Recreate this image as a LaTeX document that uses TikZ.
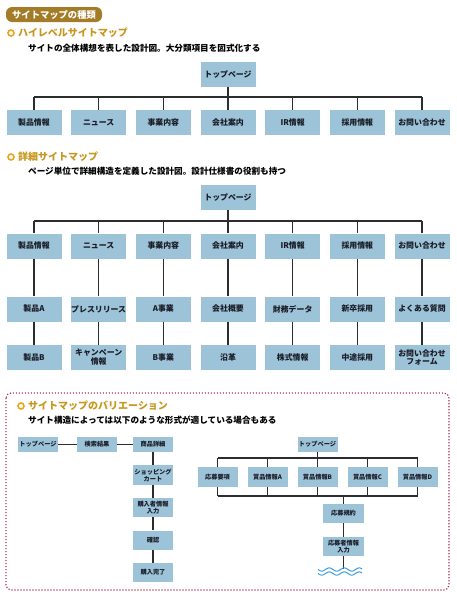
\documentclass[tikz,border=0pt]{standalone}
\usepackage{fontspec}
\setmainfont{Noto Sans CJK JP}
\definecolor{boxblue}{RGB}{157,195,216}
\definecolor{textdark}{RGB}{25,28,38}
\definecolor{linedark}{RGB}{45,45,45}
\definecolor{goldtext}{RGB}{200,150,30}
\definecolor{bulletc}{RGB}{232,165,25}
\definecolor{badgec}{RGB}{163,124,40}
\definecolor{dotred}{RGB}{176,50,80}
\definecolor{wavec}{RGB}{58,160,220}
\begin{document}
\begin{tikzpicture}[x=1pt,y=-1pt,
  box/.style={fill=boxblue, minimum width=55pt, minimum height=25pt, inner sep=0pt, align=center, text=textdark, font=\bfseries\fontsize{7.9}{8.8}\selectfont},
  sbox/.style={box, minimum width=40pt, minimum height=19pt, font=\bfseries\fontsize{6.2}{7.1}\selectfont},
  conn/.style={draw=linedark, line width=1.2pt},
  head/.style={anchor=west, text=goldtext, inner sep=0pt, font=\bfseries\fontsize{10}{11}\selectfont},
  subt/.style={anchor=west, text=black, inner sep=0pt, font=\bfseries\fontsize{8.6}{9}\selectfont},
  bulletmark/.style={circle, draw=bulletc, line width=1.6pt, minimum size=6pt, inner sep=0pt}]
\useasboundingbox (0,0) rectangle (456,600);

% badge
\node[fill=badgec, rounded corners=6pt, minimum width=96pt, minimum height=15pt, inner sep=0pt, text=white, font=\bfseries\fontsize{9.3}{10}\selectfont] (badge) at (54,14.5) {サイトマップの種類};

% section 1
\node[bulletmark] (b1) at (11,33) {};
\node[head] (h1) at (18,33) {ハイレベルサイトマップ};
\node[subt] (s1) at (28,48) {サイトの全体構想を表した設計図。大分類項目を図式化する};

\node[box] (t1) at (228,74) {トップページ};
\coordinate (bus1) at (0,97);
\foreach \i/\t in {1/製品情報,2/ニュース,3/事業内容,4/会社案内,5/IR情報,6/採用情報,7/お問い合わせ}
  \node[box] (a\i) at ({34+64.667*(\i-1)},122.5) {\t};
\draw[conn] (t1.south) -- (t1.south |- bus1);
\draw[conn] (a1.north |- bus1) -- (a7.north |- bus1);
\foreach \i in {1,...,7} \draw[conn] (a\i.north) -- (a\i.north |- bus1);

% section 2
\node[bulletmark] (b2) at (11,157) {};
\node[head] (h2) at (18,157) {詳細サイトマップ};
\node[subt] (s2) at (28,171) {ページ単位で詳細構造を定義した設計図。設計仕様書の役割も持つ};

\node[box] (t2) at (228,197.5) {トップページ};
\coordinate (bus2) at (0,221);
\foreach \i/\t in {1/製品情報,2/ニュース,3/事業内容,4/会社案内,5/IR情報,6/採用情報,7/お問い合わせ}
  \node[box] (c\i) at ({34+64.667*(\i-1)},246) {\t};
\foreach \i/\t in {1/製品A,2/プレスリリース,3/A事業,4/会社概要,5/財務データ,6/新卒採用,7/よくある質問}
  \node[box] (d\i) at ({34+64.667*(\i-1)},309) {\t};
\foreach \i/\t in {1/製品B,2/{キャンペーン\\情報},3/B事業,4/沿革,5/株式情報,6/中途採用,7/{お問い合わせ\\フォーム}}
  \node[box] (e\i) at ({34+64.667*(\i-1)},357.5) {\t};
\draw[conn] (t2.south) -- (t2.south |- bus2);
\draw[conn] (c1.north |- bus2) -- (c7.north |- bus2);
\foreach \i in {1,...,7} {
  \draw[conn] (c\i.north) -- (c\i.north |- bus2);
  \draw[conn] (c\i.south) -- (d\i.north);
  \draw[conn] (d\i.south) -- (e\i.north);
}

% section 3
\draw[draw=dotred, line width=1.2pt, dash pattern=on 1.2pt off 1.8pt, rounded corners=5pt] (6,393) rectangle (449,590);
\node[bulletmark] (b3) at (21,406) {};
\node[head] (h3) at (28,406) {サイトマップのバリエーション};
\node[subt] (s3) at (28,420) {サイト構造によっては以下のような形式が適している場合もある};

% left chain
\node[sbox, minimum height=15.5pt] (v1) at (38,444.5) {トップページ};
\node[sbox, minimum height=15.5pt] (v2) at (97,444.5) {検索結果};
\node[sbox, minimum height=15.5pt] (v3) at (153,444.5) {商品詳細};
\node[sbox, minimum height=20pt] (v4) at (153,475) {ショッピング\\カート};
\node[sbox] (v5) at (153,507.5) {購入者情報\\入力};
\node[sbox] (v6) at (153,540) {確認};
\node[sbox] (v7) at (153,572.5) {購入完了};
\draw[conn] (v1.east) -- (v2.west);
\draw[conn] (v2.east) -- (v3.west);
\draw[conn] (v3.south) -- (v4.north);
\draw[conn] (v4.south) -- (v5.north);
\draw[conn] (v5.south) -- (v6.north);
\draw[conn] (v6.south) -- (v7.north);

% right tree
\node[sbox, minimum height=15.5pt] (w0) at (317.5,444.5) {トップページ};
\coordinate (bus3) at (0,458);
\coordinate (bus4) at (0,496);
\foreach \i/\t in {1/応募要項,2/賞品情報A,3/賞品情報B,4/賞品情報C,5/賞品情報D}
  \node[sbox, minimum height=20pt] (w\i) at ({217.5+50*(\i-1)},477) {\t};
\draw[conn] (w0.south) -- (w0.south |- bus3);
\draw[conn] (w1.north |- bus3) -- (w5.north |- bus3);
\draw[conn] (w1.south |- bus4) -- (w5.south |- bus4);
\foreach \i in {1,...,5} {
  \draw[conn] (w\i.north) -- (w\i.north |- bus3);
  \draw[conn] (w\i.south) -- (w\i.south |- bus4);
}
\node[sbox, minimum width=41pt] (x1) at (343.5,513.5) {応募規約};
\node[sbox, minimum width=41pt] (x2) at (343.5,546.5) {応募者情報\\入力};
\coordinate (wv) at (343.5,569);
\draw[conn] (x1.north |- bus4) -- (x1.north);
\draw[conn] (x1.south) -- (x2.north);
\draw[conn] (x2.south) -- (wv);
\draw[wavec, line width=1pt] plot[domain=318:362, samples=80] (\x, {569.5+1.6*sin((\x-318)*24)});
\draw[wavec, line width=1pt] plot[domain=318:362, samples=80] (\x, {573.5+1.6*sin((\x-318)*24)});
\end{tikzpicture}
\end{document}
